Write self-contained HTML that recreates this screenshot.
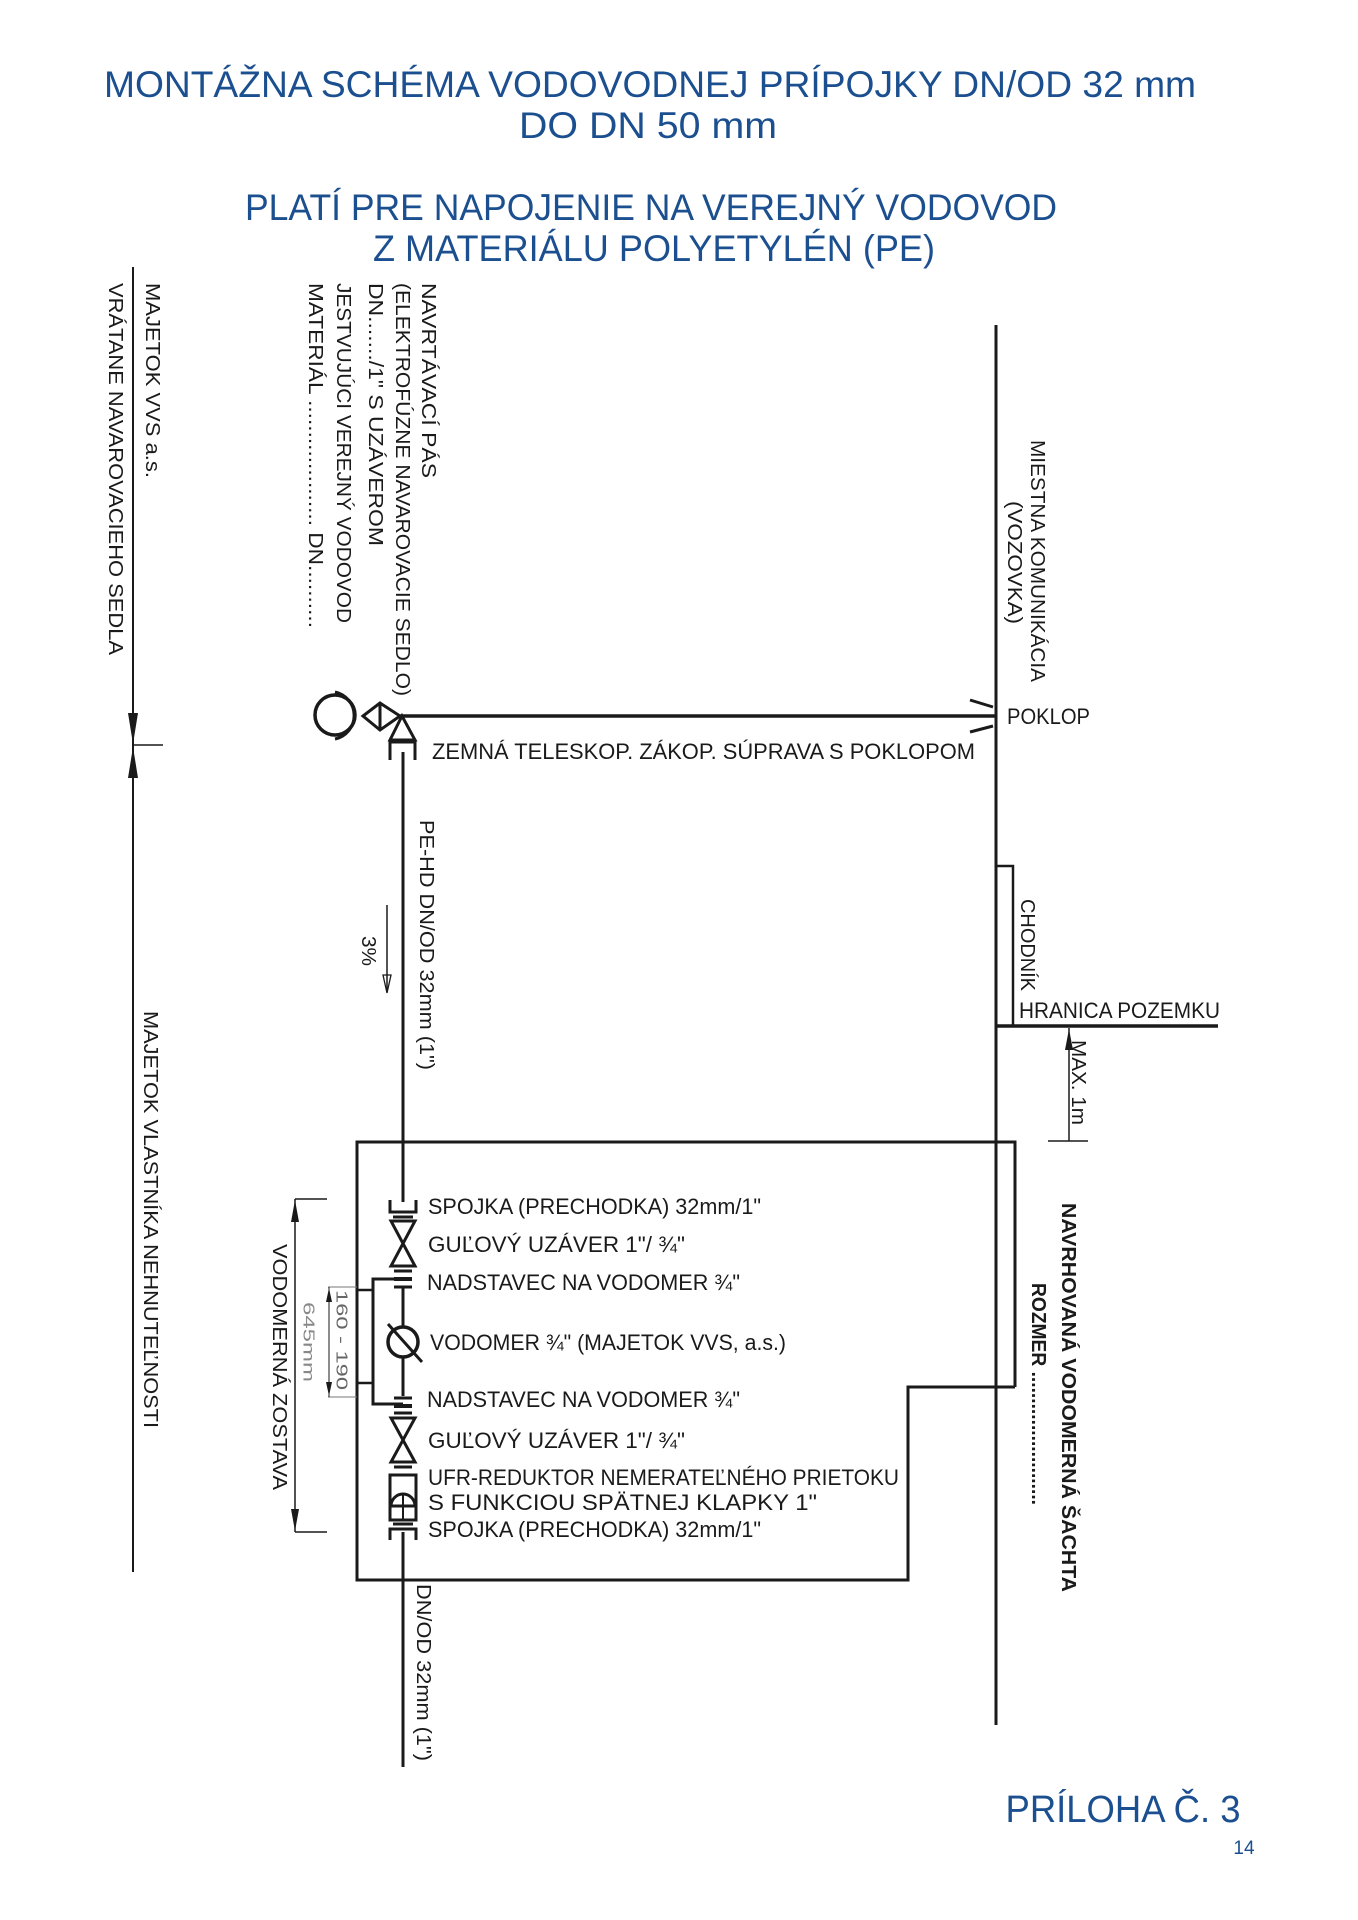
<!DOCTYPE html>
<html><head><meta charset="utf-8"><style>
html,body{margin:0;padding:0;background:#fff;}
svg{display:block;}
.t{font-family:"Liberation Sans Narrow","Liberation Sans",sans-serif;fill:#1a1a1a;}
.b{font-family:"Liberation Sans",sans-serif;fill:#1b4f8f;}
</style></head><body>
<svg width="1358" height="1920" viewBox="0 0 1358 1920" xmlns="http://www.w3.org/2000/svg">
<rect width="1358" height="1920" fill="#fff"/>
<!-- titles -->
<text class="b" x="650" y="97" font-size="37" text-anchor="middle" textLength="1092" lengthAdjust="spacingAndGlyphs">MONTÁŽNA SCHÉMA VODOVODNEJ PRÍPOJKY DN/OD 32 mm</text>
<text class="b" x="648" y="138" font-size="37" text-anchor="middle" textLength="258" lengthAdjust="spacingAndGlyphs">DO DN 50 mm</text>
<text class="b" x="651" y="220" font-size="37" text-anchor="middle" textLength="812" lengthAdjust="spacingAndGlyphs">PLATÍ PRE NAPOJENIE NA VEREJNÝ VODOVOD</text>
<text class="b" x="654" y="261" font-size="37" text-anchor="middle" textLength="562" lengthAdjust="spacingAndGlyphs">Z MATERIÁLU POLYETYLÉN (PE)</text>
<text class="b" x="1123" y="1822" font-size="38" text-anchor="middle" textLength="235" lengthAdjust="spacingAndGlyphs">PRÍLOHA Č. 3</text>
<text class="b" x="1244" y="1854" font-size="19" text-anchor="middle">14</text>

<g stroke="#1a1a1a" fill="none">
<!-- left property line -->
<line x1="133" y1="267" x2="133" y2="1572" stroke-width="2"/>
<line x1="133" y1="745" x2="163" y2="745" stroke-width="1.5"/>
<polygon points="128,713 138,713 133,744" fill="#1a1a1a" stroke="none"/>
<polygon points="128,778 138,778 133,747" fill="#1a1a1a" stroke="none"/>

<!-- road line -->
<line x1="996" y1="325" x2="996" y2="1725" stroke-width="3"/>
<polyline points="996,866 1013,866 1013,1026" stroke-width="2.5"/>
<line x1="996" y1="1026" x2="1218" y2="1026" stroke-width="3.5"/>
<!-- max 1m -->
<line x1="1069" y1="1028" x2="1069" y2="1141" stroke-width="1.5"/>
<polygon points="1065,1050 1073,1050 1069,1029" fill="#1a1a1a" stroke="none"/>
<line x1="1048" y1="1141" x2="1088" y2="1141" stroke-width="1.5"/>

<!-- box -->
<polyline points="1015,1387 1015,1142 357,1142 357,1580 908,1580 908,1387 1015,1387" stroke-width="3"/>

<!-- PE pipe horizontal -->
<line x1="400" y1="716" x2="995" y2="716" stroke-width="3.5"/>
<line x1="970" y1="700" x2="993" y2="707" stroke-width="3"/>
<line x1="970" y1="732" x2="993" y2="726" stroke-width="3"/>

<!-- top saddle symbol -->
<circle cx="335" cy="715" r="20" stroke-width="3.5"/>
<path d="M335,692 A24,24 0 0 1 335,739" stroke-width="3"/>
<polygon points="363,716 380,703 400,716 380,730" stroke-width="3"/>
<line x1="380" y1="703" x2="380" y2="730" stroke-width="3"/>
<polygon points="402,716 390,740 415,740" stroke-width="3"/>
<polyline points="390,760 390,742 415,742 415,760" stroke-width="3"/>

<!-- vertical pipe -->
<line x1="403" y1="752" x2="403" y2="1202" stroke-width="3"/>
<line x1="403" y1="1532" x2="403" y2="1767" stroke-width="3"/>
<!-- 3% arrow -->
<line x1="387" y1="905" x2="387" y2="990" stroke-width="1.5"/>
<polygon points="383,975 391,975 387,993" stroke-width="1.3"/>

<!-- spojka top -->
<polyline points="390,1200 390,1212 416,1212 416,1200" stroke-width="3"/>
<line x1="393" y1="1217" x2="413" y2="1217" stroke-width="3"/>
<!-- valve 1 -->
<polygon points="391,1221 415,1221 391,1266 415,1266" stroke-width="3"/>
<line x1="394" y1="1271" x2="412" y2="1271" stroke-width="3"/>
<!-- nadstavec 1 -->
<line x1="394" y1="1279" x2="412" y2="1279" stroke-width="4"/>
<line x1="394" y1="1287" x2="412" y2="1287" stroke-width="3"/>
<line x1="403" y1="1287" x2="403" y2="1326" stroke-width="3"/>
<!-- meter -->
<circle cx="403" cy="1342" r="15" stroke-width="3.5"/>
<line x1="388" y1="1324" x2="422" y2="1362" stroke-width="3"/>
<line x1="403" y1="1358" x2="403" y2="1396" stroke-width="3"/>
<!-- nadstavec 2 -->
<line x1="394" y1="1398" x2="412" y2="1398" stroke-width="3"/>
<line x1="394" y1="1406" x2="412" y2="1406" stroke-width="4"/>
<line x1="394" y1="1413" x2="412" y2="1413" stroke-width="3"/>
<!-- bypass -->
<polyline points="403,1279 373,1279 373,1404 403,1404" stroke-width="3"/>
<line x1="357" y1="1290" x2="373" y2="1290" stroke-width="2.5"/>
<line x1="357" y1="1383" x2="373" y2="1383" stroke-width="2.5"/>
<!-- valve 2 -->
<polygon points="391,1418 415,1418 391,1462 415,1462" stroke-width="3"/>
<line x1="394" y1="1467" x2="412" y2="1467" stroke-width="3"/>
<!-- UFR -->
<rect x="390" y="1475" width="26" height="45" stroke-width="3"/>
<path d="M391,1506 A12,12 0 0 1 415,1506 Z" stroke-width="3"/>
<line x1="403" y1="1494" x2="403" y2="1520" stroke-width="2"/>
<!-- spojka bottom -->
<line x1="393" y1="1524" x2="413" y2="1524" stroke-width="3"/>
<polyline points="390,1540 390,1529 416,1529 416,1540" stroke-width="3"/>

<!-- vodomerna zostava dimension -->
<line x1="295" y1="1199" x2="295" y2="1532" stroke-width="1.5"/>
<line x1="295" y1="1199" x2="327" y2="1199" stroke-width="1.5"/>
<line x1="295" y1="1532" x2="327" y2="1532" stroke-width="1.5"/>
<polygon points="291,1222 299,1222 295,1200" fill="#1a1a1a" stroke="none"/>
<polygon points="291,1509 299,1509 295,1531" fill="#1a1a1a" stroke="none"/>
<!-- 160-190 -->
<g stroke="#777" stroke-width="1">
<line x1="328" y1="1287" x2="357" y2="1287"/>
<line x1="328" y1="1397" x2="357" y2="1397"/>
<line x1="329" y1="1287" x2="329" y2="1397" stroke="#1a1a1a"/>
</g>
<polygon points="326,1302 332,1302 329,1288" fill="#1a1a1a" stroke="none"/>
<polygon points="326,1382 332,1382 329,1396" fill="#1a1a1a" stroke="none"/>
</g>

<!-- rotated texts -->
<g class="t" font-size="20">
<text transform="translate(152,283) rotate(90)" dominant-baseline="central" textLength="195" lengthAdjust="spacingAndGlyphs">MAJETOK VVS a.s.</text>
<text transform="translate(115,283) rotate(90)" dominant-baseline="central" textLength="372" lengthAdjust="spacingAndGlyphs">VRÁTANE NAVAROVACIEHO SEDLA</text>
<text transform="translate(150,1011) rotate(90)" dominant-baseline="central" textLength="417" lengthAdjust="spacingAndGlyphs">MAJETOK VLASTNÍKA NEHNUTEĽNOSTI</text>
<text transform="translate(428,283) rotate(90)" dominant-baseline="central" textLength="195" lengthAdjust="spacingAndGlyphs">NAVRTÁVACÍ PÁS</text>
<text transform="translate(402,283) rotate(90)" dominant-baseline="central" textLength="413" lengthAdjust="spacingAndGlyphs">(ELEKTROFÚZNE NAVAROVACIE SEDLO)</text>
<text transform="translate(375,283) rotate(90)" dominant-baseline="central" textLength="263" lengthAdjust="spacingAndGlyphs">DN......./1" S UZÁVEROM</text>
<text transform="translate(343,283) rotate(90)" dominant-baseline="central" textLength="340" lengthAdjust="spacingAndGlyphs">JESTVUJÚCI VEREJNÝ VODOVOD</text>
<text transform="translate(315,283) rotate(90)" dominant-baseline="central" textLength="345" lengthAdjust="spacingAndGlyphs">MATERIÁL .................... DN..........</text>
<text transform="translate(1037,440) rotate(90)" dominant-baseline="central" textLength="242" lengthAdjust="spacingAndGlyphs">MIESTNA KOMUNIKÁCIA</text>
<text transform="translate(1014,501) rotate(90)" dominant-baseline="central" textLength="123" lengthAdjust="spacingAndGlyphs">(VOZOVKA)</text>
<text transform="translate(426,820) rotate(90)" dominant-baseline="central" textLength="250" lengthAdjust="spacingAndGlyphs">PE-HD DN/OD 32mm (1")</text>
<text transform="translate(368,936) rotate(90)" dominant-baseline="central" textLength="30" lengthAdjust="spacingAndGlyphs">3%</text>
<text transform="translate(1027,899) rotate(90)" dominant-baseline="central" textLength="92" lengthAdjust="spacingAndGlyphs">CHODNÍK</text>
<text transform="translate(1078,1040) rotate(90)" dominant-baseline="central" textLength="85" lengthAdjust="spacingAndGlyphs">MAX. 1m</text>
<text transform="translate(279,1244) rotate(90)" dominant-baseline="central" textLength="246" lengthAdjust="spacingAndGlyphs">VODOMERNÁ ZOSTAVA</text>
<text transform="translate(341,1290) rotate(90)" dominant-baseline="central" font-size="16" fill="#666" textLength="100" lengthAdjust="spacingAndGlyphs">160 - 190</text>
<text transform="translate(308,1302) rotate(90)" dominant-baseline="central" font-size="16" fill="#888" textLength="80" lengthAdjust="spacingAndGlyphs">645mm</text>
<text transform="translate(423,1584) rotate(90)" dominant-baseline="central" textLength="177" lengthAdjust="spacingAndGlyphs">DN/OD 32mm (1")</text>
<text transform="translate(1068,1203) rotate(90)" dominant-baseline="central" font-weight="bold" font-family="Liberation Sans, sans-serif" textLength="389" lengthAdjust="spacingAndGlyphs">NAVRHOVANÁ VODOMERNÁ ŠACHTA</text>
<text transform="translate(1038,1283) rotate(90)" dominant-baseline="central" font-weight="bold" font-family="Liberation Sans, sans-serif" textLength="222" lengthAdjust="spacingAndGlyphs">ROZMER .........................</text>
</g>

<!-- horizontal technical labels -->
<g class="t" font-size="22">
<text x="1007" y="724" textLength="83" lengthAdjust="spacingAndGlyphs">POKLOP</text>
<text x="432" y="759" textLength="543" lengthAdjust="spacingAndGlyphs">ZEMNÁ TELESKOP. ZÁKOP. SÚPRAVA S POKLOPOM</text>
<text x="1019" y="1018" textLength="201" lengthAdjust="spacingAndGlyphs">HRANICA POZEMKU</text>
<text x="428" y="1214" textLength="333" lengthAdjust="spacingAndGlyphs">SPOJKA (PRECHODKA) 32mm/1"</text>
<text x="428" y="1252" textLength="257" lengthAdjust="spacingAndGlyphs">GUĽOVÝ UZÁVER 1"/ ¾"</text>
<text x="427" y="1290" textLength="313" lengthAdjust="spacingAndGlyphs">NADSTAVEC NA VODOMER ¾"</text>
<text x="430" y="1350" textLength="356" lengthAdjust="spacingAndGlyphs">VODOMER ¾" (MAJETOK VVS, a.s.)</text>
<text x="427" y="1407" textLength="313" lengthAdjust="spacingAndGlyphs">NADSTAVEC NA VODOMER ¾"</text>
<text x="428" y="1448" textLength="257" lengthAdjust="spacingAndGlyphs">GUĽOVÝ UZÁVER 1"/ ¾"</text>
<text x="428" y="1485" textLength="471" lengthAdjust="spacingAndGlyphs">UFR-REDUKTOR NEMERATEĽNÉHO PRIETOKU</text>
<text x="428" y="1510" textLength="389" lengthAdjust="spacingAndGlyphs">S FUNKCIOU SPÄTNEJ KLAPKY 1"</text>
<text x="428" y="1537" textLength="333" lengthAdjust="spacingAndGlyphs">SPOJKA (PRECHODKA) 32mm/1"</text>
</g>
</svg>
</body></html>
